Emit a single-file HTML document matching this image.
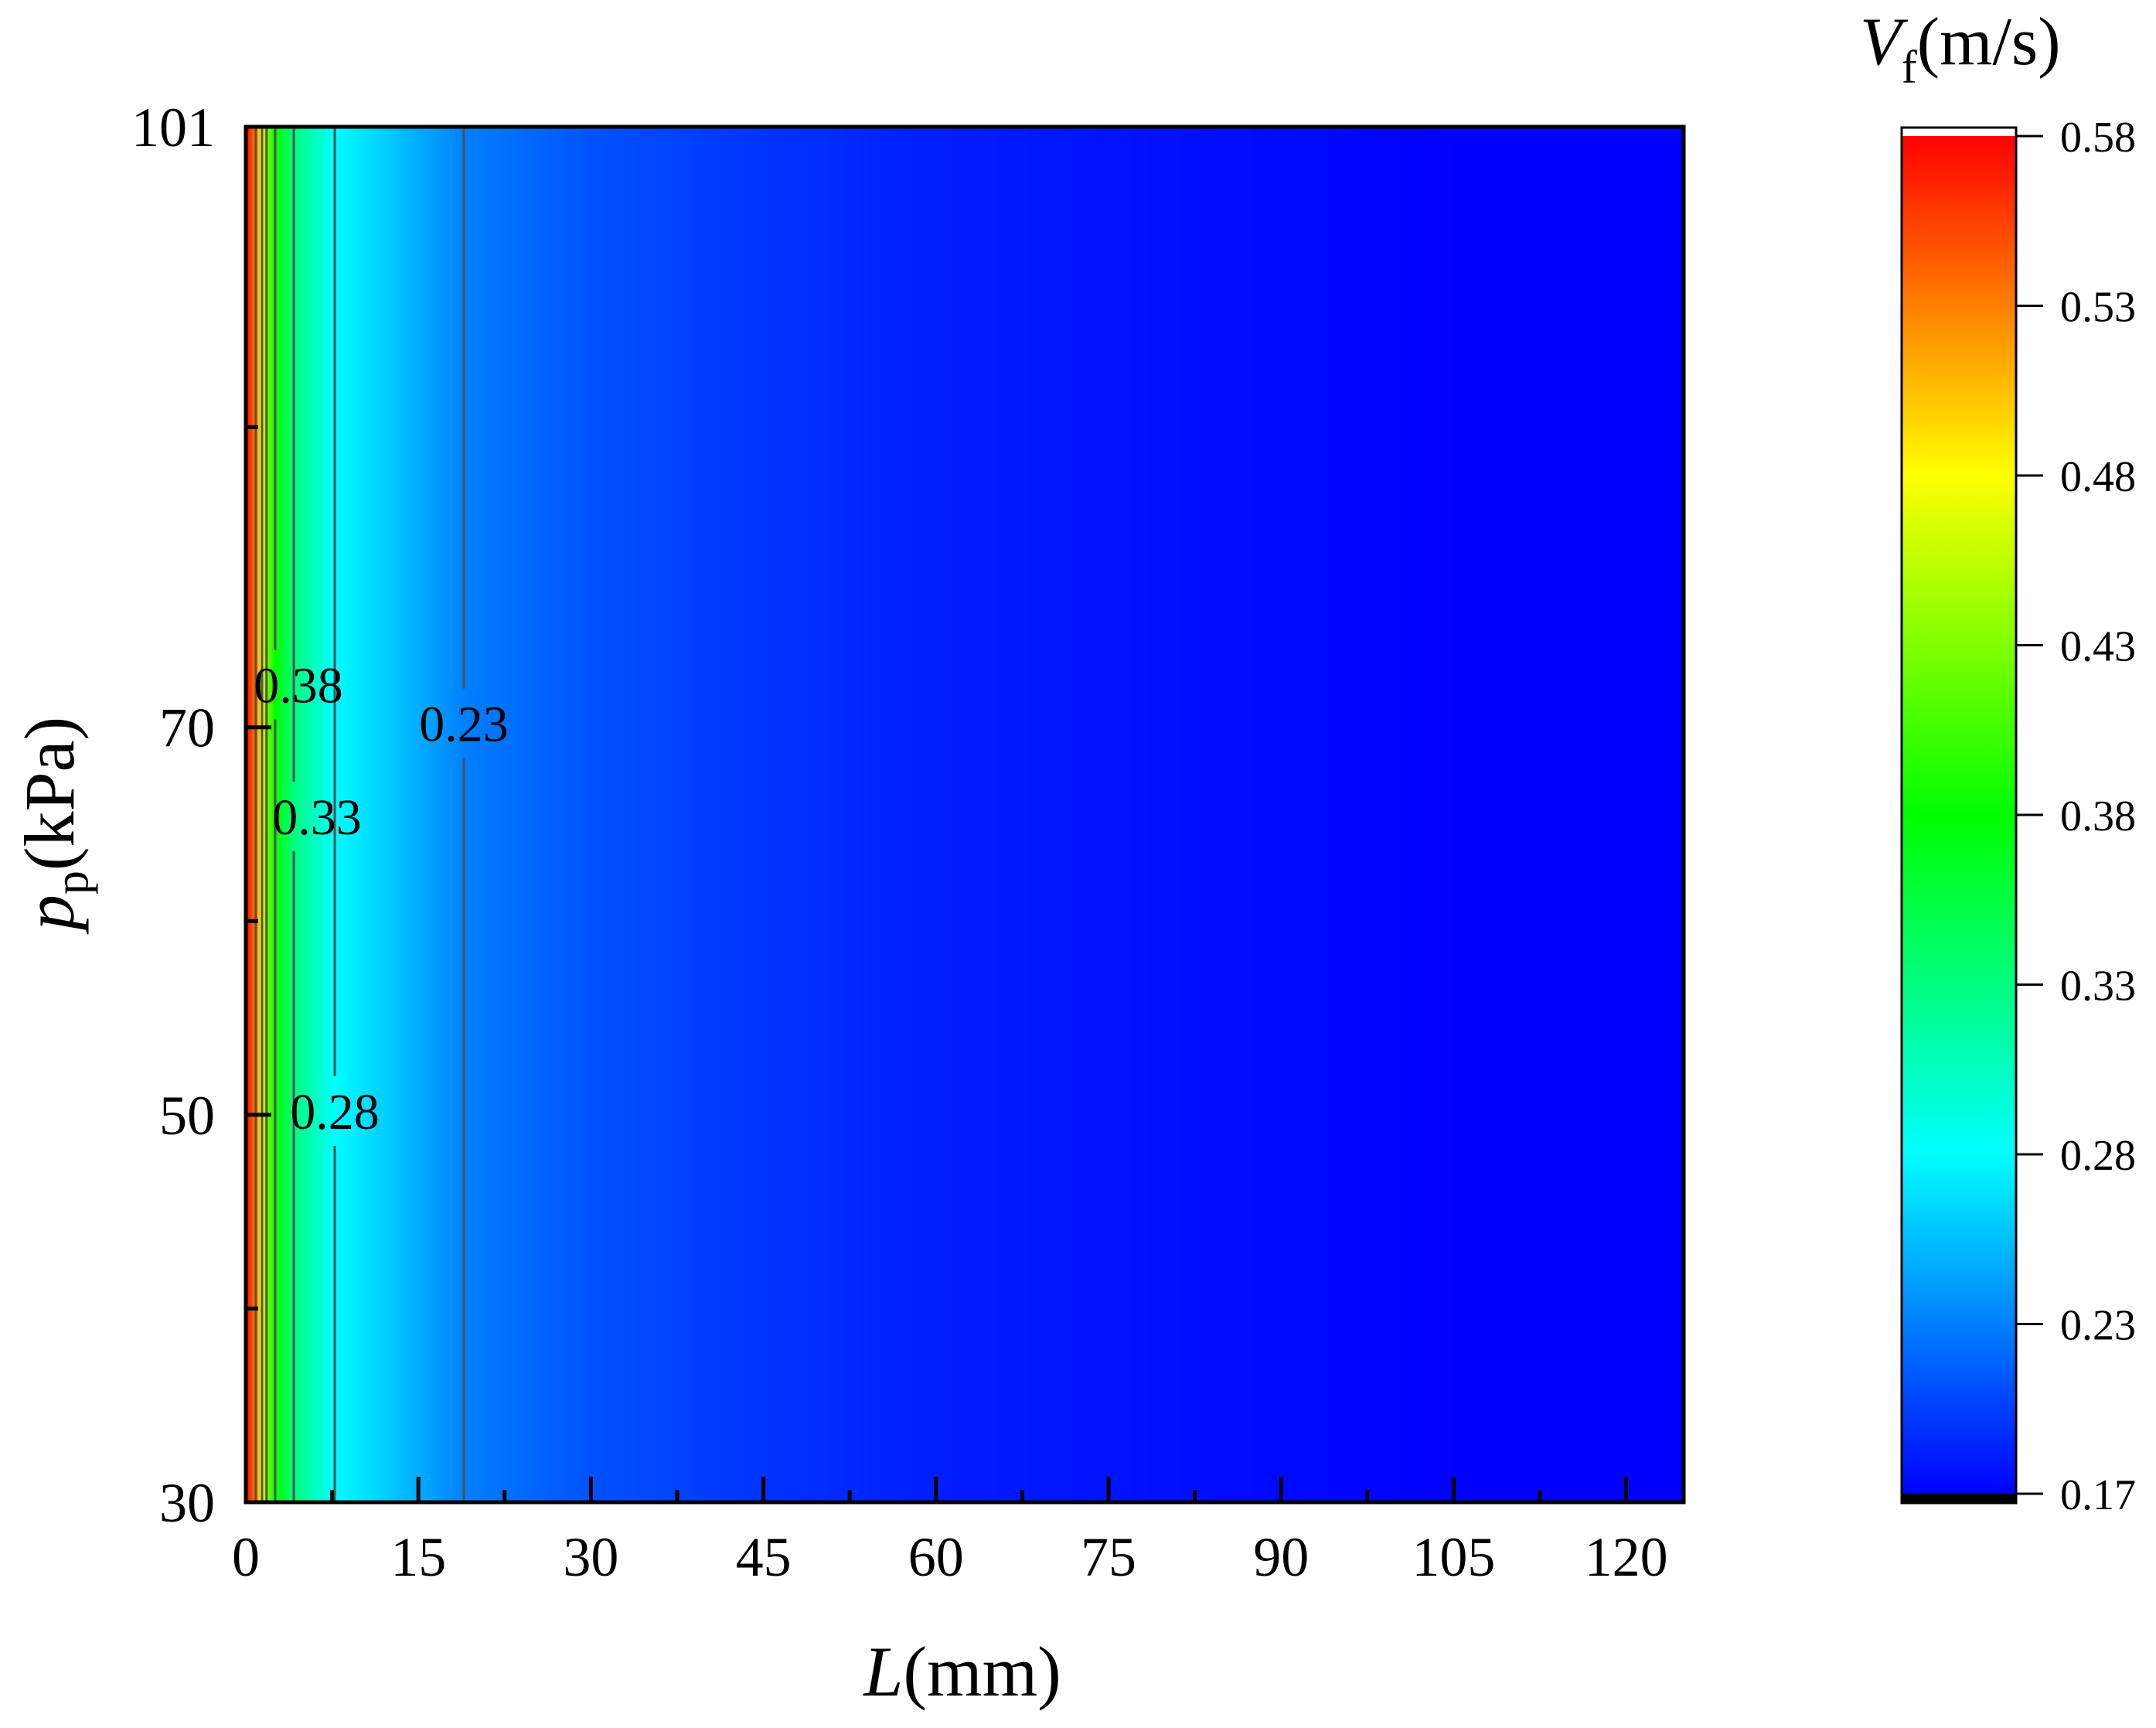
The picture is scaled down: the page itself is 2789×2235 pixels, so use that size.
<!DOCTYPE html>
<html><head><meta charset="utf-8"><style>
html,body{margin:0;padding:0;background:#fff}
svg{display:block;font-family:"Liberation Serif",serif}
</style></head><body>
<svg id="chart" width="2789" height="2235" viewBox="0 0 2789 2235">
<defs>
<linearGradient id="cmap" x1="0" y1="0" x2="0" y2="1">
<stop offset="0" stop-color="#ff0000"/><stop offset="0.25" stop-color="#ffff00"/><stop offset="0.5" stop-color="#00ff00"/><stop offset="0.75" stop-color="#00ffff"/><stop offset="1" stop-color="#0000ff"/>
</linearGradient>
<clipPath id="plotclip"><rect x="318" y="164" width="1860" height="1779"/></clipPath>
</defs>
<g id="field" clip-path="url(#plotclip)"></g>
<g id="contours" clip-path="url(#plotclip)"></g>
<g id="axes"></g>
<text x="1245" y="2193" font-size="92" text-anchor="middle"><tspan font-style="italic">L</tspan>(mm)</text>
<text transform="translate(95,1065) rotate(-90)" font-size="92" text-anchor="middle"><tspan font-style="italic">p</tspan><tspan font-size="62" dy="18">p</tspan><tspan dy="-18">(kPa)</tspan></text>
<g id="cbar"></g>
<text x="2406" y="83" font-size="88"><tspan font-style="italic">V</tspan><tspan font-size="60" dy="24">f</tspan><tspan dy="-24">(m/s)</tspan></text>
</svg>
<script>
const Lvals=[0,0.87,1.41,1.8,2.55,4.17,7.73,18.95,30,45,60,80,100,125];
const Vvals=[0.58,0.53,0.48,0.43,0.38,0.33,0.28,0.23,0.212,0.2,0.192,0.186,0.181,0.177];
const levels=[0.53,0.48,0.43,0.38,0.33,0.28,0.23];
const levelLabels=["0.38","0.33","0.28","0.23"];
const labelY=[72.2,65.4,50.2,70.2];
const labelDx=[30,30,0,0];
const xTicks=[0,15,30,45,60,75,90,105,120];
const xMinor=[7.5,22.5,37.5,52.5,67.5,82.5,97.5,112.5];
const yTickLabels=[30,50,70,101];
const yMinor=[40,60,85.5];
const cbTicks=["0.58","0.53","0.48","0.43","0.38","0.33","0.28","0.23","0.17"];
const NS="http://www.w3.org/2000/svg";
const X0=318,X1=2178,Y0=1943,Y1=164;
const xs=v=>X0+(v-0)/(125-0)*(X1-X0);
const ys=v=>Y0-(v-30)/(101-30)*(Y0-Y1);
const vmax=0.58,vmin=0.18;
function el(t,a,p){const e=document.createElementNS(NS,t);for(const k in a)e.setAttribute(k,a[k]);p.appendChild(e);return e;}
function interpV(L){for(let i=0;i<Lvals.length-1;i++){if(L<=Lvals[i+1]){const f=(L-Lvals[i])/(Lvals[i+1]-Lvals[i]);return Vvals[i]+f*(Vvals[i+1]-Vvals[i]);}}return Vvals[Vvals.length-1];}
function invV(v){for(let i=0;i<Vvals.length-1;i++){if(v<=Vvals[i]&&v>=Vvals[i+1]){const f=(Vvals[i]-v)/(Vvals[i]-Vvals[i+1]);return Lvals[i]+f*(Lvals[i+1]-Lvals[i]);}}return null;}
const stops=[[0,[255,0,0]],[0.25,[255,255,0]],[0.5,[0,255,0]],[0.75,[0,255,255]],[1,[0,0,255]]];
function cmap(v){let t=(vmax-v)/(vmax-vmin);t=Math.max(0,Math.min(1,t));for(let i=0;i<stops.length-1;i++){if(t<=stops[i+1][0]){const f=(t-stops[i][0])/(stops[i+1][0]-stops[i][0]);const a=stops[i][1],b=stops[i+1][1];return `rgb(${Math.round(a[0]+f*(b[0]-a[0]))},${Math.round(a[1]+f*(b[1]-a[1]))},${Math.round(a[2]+f*(b[2]-a[2]))})`;}}return "rgb(0,0,255)";}
const field=document.getElementById('field');
for(let px=X0;px<X1;px+=2){const L=(px+1-X0)/(X1-X0)*125;
 const r=el('rect',{x:px,y:Y1,width:2.6,height:Y0-Y1,fill:cmap(interpV(L))},field);
 
 }
const cg=document.getElementById('contours');
levels.forEach(v=>{const L=invV(v);if(L===null)return;const x=xs(L);
 const li=levelLabels.indexOf(v.toFixed(2));
 if(li>=0){const ly=ys(labelY[li]);
  const a=el('line',{x1:x,y1:Y1,x2:x,y2:ly-45,stroke:'#505050','stroke-width':3},cg);
  
  
  const b=el('line',{x1:x,y1:ly+45,x2:x,y2:Y0,stroke:'#505050','stroke-width':3},cg);
  
  
 }else{const a=el('line',{x1:x,y1:Y1,x2:x,y2:Y0,stroke:'#505050','stroke-width':3},cg);
  
  }
});
const svg=document.getElementById('chart');
levelLabels.forEach((s,i)=>{const L=invV(parseFloat(s));const t=el('text',{x:xs(L)+labelDx[i],y:ys(labelY[i])+23,'font-size':66,'text-anchor':'middle'},svg);t.textContent=s;
 
 });
const ax=document.getElementById('axes');
xTicks.forEach(v=>{const x=xs(v);
 const l=el('line',{x1:x,y1:Y0,x2:x,y2:Y0-33,stroke:'#000','stroke-width':5},ax);
 
 
 const t=el('text',{x:x,y:2038,'font-size':72,'text-anchor':'middle'},ax);t.textContent=v;
 
 });
xMinor.forEach(v=>{const x=xs(v);const l=el('line',{x1:x,y1:Y0,x2:x,y2:Y0-16,stroke:'#000','stroke-width':5},ax);
 
 });
yTickLabels.forEach(v=>{const y=ys(v);
 const l=el('line',{x1:X0,y1:y,x2:X0+33,y2:y,stroke:'#000','stroke-width':5},ax);
 
 
 const t=el('text',{x:278,y:y+25,'font-size':72,'text-anchor':'end'},ax);t.textContent=v;
 
 });
yMinor.forEach(v=>{const y=ys(v);const l=el('line',{x1:X0,y1:y,x2:X0+16,y2:y,stroke:'#000','stroke-width':5},ax);
 
 });
const fr=el('rect',{x:X0,y:Y1,width:X1-X0,height:Y0-Y1,fill:'none',stroke:'#000','stroke-width':5},ax);


const cb=document.getElementById('cbar');
const CT=176,CB=1932,CX=2460,CW=148;
const g=el('rect',{x:CX,y:CT,width:CW,height:CB-CT,fill:'url(#cmap)'},cb);


const bb=el('rect',{x:CX,y:CB,width:CW,height:12,fill:'#000'},cb);


const cf=el('rect',{x:CX,y:165,width:CW,height:1779,fill:'none',stroke:'#000','stroke-width':3},cb);


cbTicks.forEach((s,i)=>{const y=CT+i*(CB-CT)/(cbTicks.length-1);
 const l=el('line',{x1:CX+CW,y1:y,x2:CX+CW+35,y2:y,stroke:'#000','stroke-width':3},cb);
 
 
 const t=el('text',{x:2665,y:y+20,'font-size':56},cb);t.textContent=s;
 
 });
</script>
</body></html>
